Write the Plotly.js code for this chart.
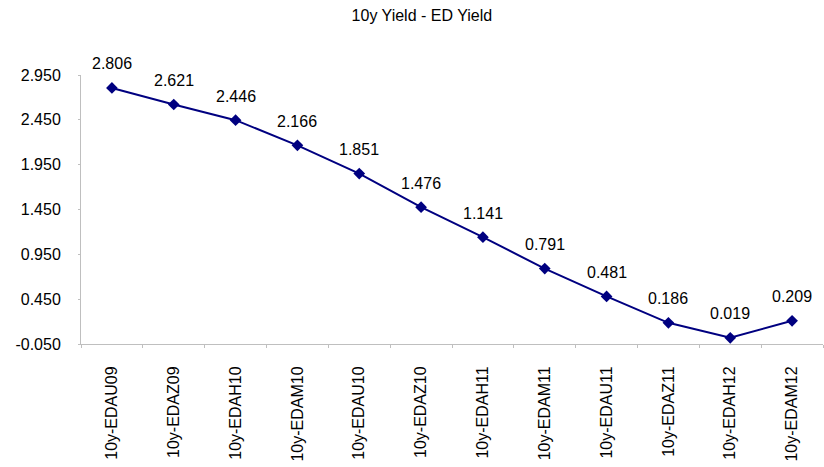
<!DOCTYPE html>
<html>
<head>
<meta charset="utf-8">
<script src="https://cdn.plot.ly/plotly-3.0.1.min.js"></script>
<style>
  html, body { margin: 0; padding: 0; background: #fff; }
  #chart { width: 824px; height: 467px; }
</style>
</head>
<body>
<div id="chart"></div>
<script>
// Spread between the 10y yield and each Eurodollar contract yield
const contracts = ['10y-EDAU09', '10y-EDAZ09', '10y-EDAH10', '10y-EDAM10', '10y-EDAU10', '10y-EDAZ10',
                   '10y-EDAH11', '10y-EDAM11', '10y-EDAU11', '10y-EDAZ11', '10y-EDAH12', '10y-EDAM12'];
const spread = [2.806, 2.621, 2.446, 2.166, 1.851, 1.476, 1.141, 0.791, 0.481, 0.186, 0.019, 0.209];
const yTickVals = [-0.05, 0.45, 0.95, 1.45, 1.95, 2.45, 2.95];
const yTickText = ['-0.050', '0.450', '0.950', '1.450', '1.950', '2.450', '2.950'];

const FONT = 'Liberation Sans, Arial, sans-serif';
const NAVY = '#000080';
const AXIS = '#bfbfbf';

const trace = {
  x: contracts,
  y: spread,
  type: 'scatter',
  mode: 'lines+markers',
  line: { color: NAVY, width: 2 },
  marker: { symbol: 'diamond', size: 9, color: NAVY },
  hoverinfo: 'skip'
};

// value labels above each point
const labels = contracts.map((c, i) => ({
  x: c,
  y: spread[i],
  text: spread[i].toFixed(3),
  showarrow: false,
  xanchor: 'center',
  yanchor: 'middle',
  yshift: 24,
  font: { family: FONT, size: 16, color: '#000' }
}));

const layout = {
  width: 824,
  height: 467,
  margin: { l: 81, r: 1, t: 75, b: 123 },
  paper_bgcolor: '#fff',
  plot_bgcolor: '#fff',
  showlegend: false,
  title: {
    text: '10y Yield - ED Yield',
    font: { family: FONT, size: 16, color: '#000' },
    xref: 'container', yref: 'container',
    x: 0.512, y: 1 - 15 / 467,
    xanchor: 'center', yanchor: 'middle'
  },
  xaxis: {
    type: 'category',
    range: [-0.5, contracts.length - 0.5],
    showgrid: false,
    zeroline: false,
    showline: true,
    linecolor: AXIS,
    linewidth: 1,
    ticks: 'outside',
    tickson: 'boundaries',
    ticklen: 3,
    tickcolor: AXIS,
    tickangle: -90,
    ticklabelstandoff: 15,
    tickfont: { family: FONT, size: 16, color: '#000' },
    fixedrange: true
  },
  yaxis: {
    range: [-0.05, 2.95],
    tickmode: 'array',
    tickvals: yTickVals,
    ticktext: yTickText,
    showgrid: false,
    zeroline: false,
    showline: true,
    linecolor: AXIS,
    linewidth: 1,
    ticks: 'outside',
    ticklen: 2,
    tickcolor: AXIS,
    ticklabelstandoff: 14,
    tickfont: { family: FONT, size: 16, color: '#000' },
    fixedrange: true
  },
  annotations: labels
};

Plotly.newPlot('chart', [trace], layout, { displayModeBar: false, staticPlot: true });
</script>
</body>
</html>
